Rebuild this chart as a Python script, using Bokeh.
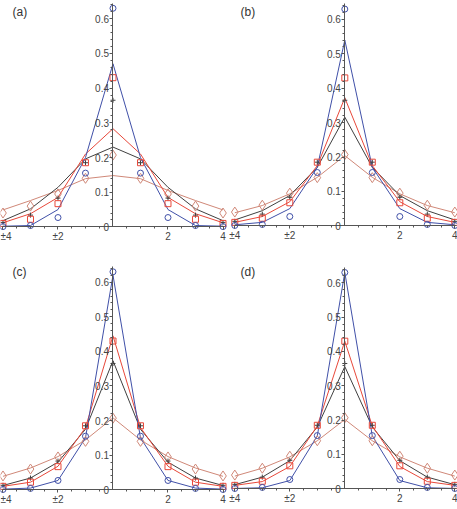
from bokeh.plotting import figure
from bokeh.models import LinearAxis, FixedTicker, Range1d, Label
from bokeh.layouts import column, row
from bokeh.embed import file_html
from bokeh.resources import INLINE

# ---- data ----
x = [-4, -3, -2, -1, 0, 1, 2, 3, 4]

# observed points (same in every panel)
obs_circle = [0.001, 0.004, 0.027, 0.155, 0.63, 0.155, 0.027, 0.004, 0.001]
obs_square = [0.010, 0.022, 0.067, 0.185, 0.43, 0.185, 0.067, 0.022, 0.010]
obs_plus = [0.013, 0.034, 0.083, 0.185, 0.365, 0.185, 0.083, 0.034, 0.013]
obs_diamond = [0.040, 0.060, 0.095, 0.140, 0.207, 0.140, 0.095, 0.060, 0.040]

# fitted curves per panel
a_blue = [0.002, 0.004, 0.050, 0.200, 0.470, 0.200, 0.050, 0.004, 0.002]
a_red = [0.012, 0.038, 0.085, 0.210, 0.283, 0.210, 0.085, 0.038, 0.012]
a_black = [0.018, 0.052, 0.114, 0.196, 0.230, 0.196, 0.114, 0.052, 0.018]
a_brown = [0.049, 0.076, 0.105, 0.139, 0.148, 0.139, 0.105, 0.076, 0.049]

b_blue = [0.003, 0.010, 0.050, 0.170, 0.540, 0.170, 0.050, 0.010, 0.003]
b_red = [0.010, 0.027, 0.070, 0.175, 0.372, 0.175, 0.070, 0.027, 0.010]
b_black = [0.017, 0.044, 0.088, 0.170, 0.316, 0.170, 0.088, 0.044, 0.017]
b_brown = [0.038, 0.059, 0.093, 0.141, 0.204, 0.141, 0.093, 0.059, 0.038]

c_blue = [0.002, 0.005, 0.027, 0.150, 0.620, 0.150, 0.027, 0.005, 0.002]
c_red = [0.010, 0.022, 0.068, 0.180, 0.445, 0.180, 0.068, 0.022, 0.010]
c_black = [0.0125, 0.034, 0.080, 0.175, 0.373, 0.175, 0.080, 0.034, 0.0125]
c_brown = [0.039, 0.063, 0.096, 0.144, 0.208, 0.144, 0.096, 0.063, 0.039]

d_blue = [0.001, 0.003, 0.024, 0.154, 0.630, 0.154, 0.024, 0.003, 0.001]
d_red = [0.010, 0.021, 0.065, 0.183, 0.430, 0.183, 0.065, 0.021, 0.010]
d_black = [0.012, 0.034, 0.082, 0.180, 0.356, 0.180, 0.082, 0.034, 0.012]
d_brown = [0.037, 0.060, 0.093, 0.140, 0.202, 0.140, 0.093, 0.060, 0.037]

panel_labels = ["(a)", "(b)", "(c)", "(d)"]
x_ticks = [-4, -2, 2, 4]
x_tick_labels = {-4: "\u00b14", -2: "\u00b12"}
y_ticks = [0, 0.1, 0.2, 0.3, 0.4, 0.5, 0.6]

BLUE = "#4050a8"
RED = "#e8483a"
BLACK = "#404040"
BROWN = "#d08878"
FONT = "Liberation Sans"

curves = {
    "(a)": (a_blue, a_red, a_black, a_brown),
    "(b)": (b_blue, b_red, b_black, b_brown),
    "(c)": (c_blue, c_red, c_black, c_brown),
    "(d)": (d_blue, d_red, d_black, d_brown),
}

# layout: (width, height, x_start, x_end, y_start, y_end)
geom = {
    "(a)": (228, 254, -4.0909, 4.2, -0.0795, 0.6524),
    "(b)": (229, 254, -4.229, 4.098, -0.0834, 0.655),
    "(c)": (228, 255, -4.0909, 4.2, -0.0569, 0.680),
    "(d)": (229, 255, -4.229, 4.098, -0.0603, 0.6825),
}


def make_panel(name):
    w, h, x0, x1, y0, y1 = geom[name]
    p = figure(width=w, height=h, output_backend="svg", toolbar_location=None,
               x_range=Range1d(x0, x1), y_range=Range1d(y0, y1),
               x_axis_location=None, y_axis_location=None,
               min_border=0, min_border_left=0, min_border_right=0,
               min_border_top=0, min_border_bottom=0)
    p.outline_line_color = None
    p.xgrid.visible = False
    p.ygrid.visible = False
    p.background_fill_color = "white"
    p.border_fill_color = "white"

    blue, red, black, brown = curves[name]
    p.line(x, brown, line_color=BROWN, line_width=1)
    p.line(x, black, line_color=BLACK, line_width=1)
    p.line(x, red, line_color=RED, line_width=1)
    p.line(x, blue, line_color=BLUE, line_width=1)

    p.scatter(x, obs_diamond, marker="diamond", size=10, fill_color=None,
              line_color=BROWN, line_width=1)
    p.scatter(x, obs_plus, marker="cross", size=5, line_color=BLACK, line_width=1)
    p.scatter(x, obs_square, marker="square", size=6, fill_color=None,
              line_color=RED, line_width=1)
    p.scatter(x, obs_circle, marker="circle", size=6, fill_color=None,
              line_color=BLUE, line_width=1)

    yax = LinearAxis(fixed_location=0, bounds=(0, 0.645),
                     ticker=FixedTicker(ticks=y_ticks,
                                        minor_ticks=[i * 0.02 for i in range(33)]))
    yax.major_label_overrides = {0: "0"}
    xax = LinearAxis(fixed_location=0, bounds=(-4, 4.05),
                     ticker=FixedTicker(ticks=x_ticks,
                                        minor_ticks=[-3.5, -3, -2.5, -1.5, -1, -0.5,
                                                     0.5, 1, 1.5, 2.5, 3, 3.5]))
    xax.major_label_overrides = x_tick_labels
    for ax in (xax, yax):
        ax.axis_line_color = "#555555"
        ax.major_tick_line_color = "#555555"
        ax.minor_tick_line_color = "#555555"
        ax.major_tick_out = 3
        ax.major_tick_in = 0
        ax.minor_tick_out = 2
        ax.minor_tick_in = 0
        ax.major_label_standoff = 1
        ax.major_label_text_font = FONT
        ax.major_label_text_font_size = "10px"
        ax.major_label_text_color = "#444444"
    p.add_layout(yax, "left")
    p.add_layout(xax, "below")

    p.add_layout(Label(x=12, y=h - (11.5 if h == 254 else 17.5), x_units="screen",
                       y_units="screen", text=name, text_font=FONT,
                       text_font_size="12px", text_color="#333333",
                       text_baseline="middle"))
    return p


pa, pb, pc, pd = [make_panel(n) for n in panel_labels]
layout = column(row(pa, pb), row(pc, pd))

open("out.html", "w").write(file_html(layout, INLINE))
